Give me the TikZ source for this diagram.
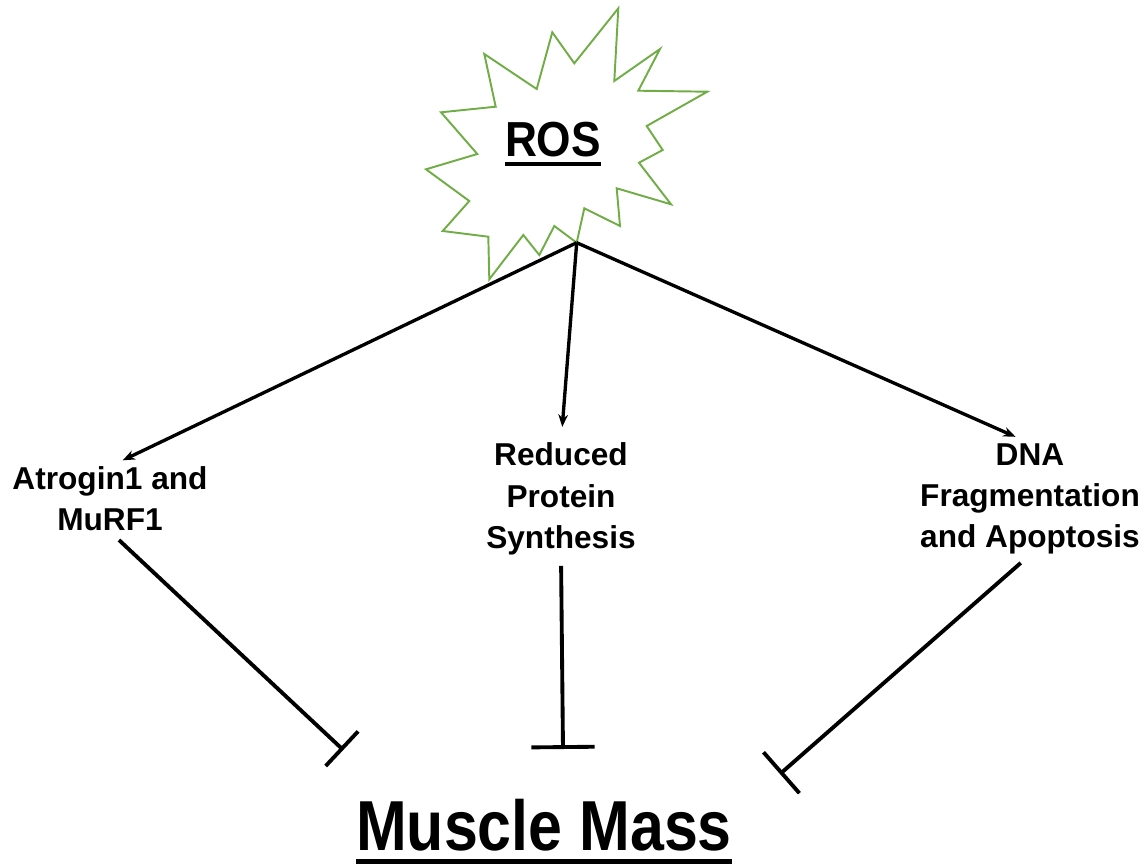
\documentclass[tikz,border=0pt]{standalone}
\usepackage{fontspec}
\setmainfont{Liberation Sans}
\usepackage{xcolor}
\usetikzlibrary{arrows.meta,positioning}
\definecolor{burstgreen}{HTML}{70AD47}

\begin{document}
\begin{tikzpicture}[x=0.02cm, y=-0.02cm,
    label/.style={align=center, inner sep=0pt, font=\fontsize{18}{23.5}\selectfont\bfseries},
    title/.style={inner sep=0pt, anchor=base},
    arrow/.style={-{Stealth[length=7pt, width=5.5pt]}, line width=1.9pt},
    inhibit/.style={line width=2.2pt},
    burst/.style={draw=burstgreen, line width=1.1pt, line join=miter}
]
\useasboundingbox (0,0) rectangle (1147,863);

% ROS burst
\draw[burst] (618.3,8.3) -- (614.3,81) -- (660,49) -- (638.3,90.7) -- (707.3,91.7)
  -- (646.7,126) -- (662.7,150) -- (639,162.7) -- (671,204.3) -- (616.7,188.3)
  -- (620,226) -- (584.3,208.3) -- (576.7,242.7) -- (554.3,226) -- (539.3,255)
  -- (523.3,235) -- (489.3,279.3) -- (488.3,236.7) -- (442.7,231) -- (469.3,201)
  -- (426,169.3) -- (477.3,154) -- (441,112.3) -- (495.7,106.7) -- (484.3,54)
  -- (536.7,89) -- (552.3,32.3) -- (574.3,63.3) -- cycle;
\coordinate (rostip) at (576.7,242.7);
\node[title, font=\fontsize{28}{30}\selectfont\bfseries] (ros) at (553,156.7) {\scalebox{0.9}[1]{ROS}};
\draw[line width=2.3pt] ([yshift=-3.8pt]ros.south west) -- ([yshift=-3.8pt]ros.south east);

% Effects
\node[label] (atrogin) at (110,499) {Atrogin1 and\\MuRF1};
\node[label] (reduced) at (561,499) {Reduced\\Protein\\Synthesis};
\node[label] (dna) at (1030,499) {DNA\\Fragmentation\\and Apoptosis};

% Muscle mass
\node[title, font=\fontsize{40.3}{44}\selectfont\bfseries] (mass) at (544,850.7) {\scalebox{0.86}[1]{Muscle Mass}};
\draw[line width=2.8pt] ([yshift=-5.3pt]mass.south west) -- ([yshift=-5.3pt]mass.south east);

% Arrows
\draw[arrow, shorten >=8pt] (rostip) -- (atrogin.north);
\draw[arrow, shorten >=9pt] (rostip) -- (reduced.north);
\draw[arrow, shorten >=9pt] (rostip) -- (dna.north);

% Inhibition
\coordinate (inhl) at (343.3,750);
\coordinate (inhm) at (563,749);
\coordinate (inhr) at (780,774);
\draw[inhibit, -{Bar[width=27pt]}, shorten <=7pt] (atrogin.south) -- (inhl);
\draw[inhibit, -{Bar[width=36pt]}, shorten <=6pt] (reduced.south) -- (inhm);
\draw[inhibit, -{Bar[width=31pt]}, shorten <=7pt] (dna.south) -- (inhr);

\end{tikzpicture}
\end{document}
